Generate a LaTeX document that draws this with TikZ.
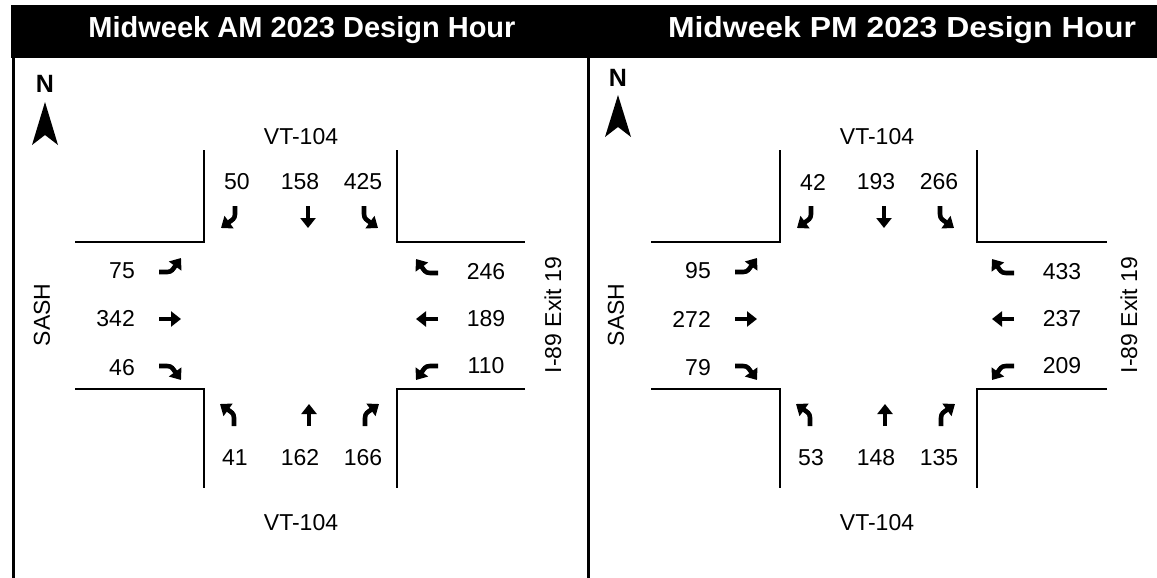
\documentclass[tikz,border=0pt]{standalone}
\usepackage{fontspec}
\setmainfont{Liberation Sans}
\usetikzlibrary{arrows.meta}
\tikzset{
  road/.style={line width=2pt},
  frameline/.style={line width=3pt},
  mv/.style={line width=4.6pt,-{Triangle[length=10pt,width=15pt]}},
  num/.style={font=\fontsize{23}{23}\selectfont, inner sep=0pt},
  hdr/.style={font=\bfseries\fontsize{29}{29}\selectfont, text=white, inner sep=0pt},
  northlbl/.style={font=\bfseries\fontsize{25}{25}\selectfont, inner sep=0pt},
  pics/mDN/.style={code={\draw[mv] (0,-11) -- (0,11);}},
  pics/mUP/.style={code={\draw[mv] (0,11) -- (0,-11);}},
  pics/mRT/.style={code={\draw[mv] (-11,0) -- (11,0);}},
  pics/mLF/.style={code={\draw[mv] (11,0) -- (-11,0);}},
  pics/mSDL/.style={code={\draw[mv] (5,-11) -- (5,-3) .. controls (5,2) and (2,3) .. (-9,11);}},
  pics/mSDR/.style={code={\draw[mv] (-5,-11) -- (-5,-3) .. controls (-5,2) and (-2,3) .. (9,11);}},
  pics/mNUL/.style={code={\draw[mv] (5,11) -- (5,3) .. controls (5,-2) and (2,-3) .. (-9,-11);}},
  pics/mNUR/.style={code={\draw[mv] (-5,11) -- (-5,3) .. controls (-5,-2) and (-2,-3) .. (9,-11);}},
  pics/mEUR/.style={code={\draw[mv] (-11,5) -- (-3,5) .. controls (2,5) and (3,2) .. (11,-9);}},
  pics/mEDR/.style={code={\draw[mv] (-11,-5) -- (-3,-5) .. controls (2,-5) and (3,-2) .. (11,9);}},
  pics/mWUL/.style={code={\draw[mv] (11,5) -- (3,5) .. controls (-2,5) and (-3,2) .. (-11,-9);}},
  pics/mWDL/.style={code={\draw[mv] (11,-5) -- (3,-5) .. controls (-2,-5) and (-3,-2) .. (-11,9);}},
}
\begin{document}
\begin{tikzpicture}[x=1pt,y=-1pt]
\useasboundingbox (0,0) rectangle (1157,578);
% header
\fill (11,5) rectangle (1157,58);
\draw[frameline] (13,58) -- (13,578);
\draw[frameline] (588,58) -- (588,578);
\node[hdr] (h1) at (302,30) {Midweek AM 2023 Design Hour};
\node[hdr, xscale=1.1] (h2) at (902,30) {Midweek PM 2023 Design Hour};
% north arrows
\node[northlbl] (n1) at (45,84) {N};
\fill (45,102) -- (58,145) -- (45,135) -- (32,145) -- cycle;
\node[northlbl] (n2) at (618,78) {N};
\fill (618,95) -- (631,137) -- (618,127) -- (605,137) -- cycle;
% street names outside the intersections
\node[num, rotate=90] (sash1) at (42,315) {SASH};
\node[num, rotate=90] (sash2) at (616,315) {SASH};

% ---------- AM panel ----------
\begin{scope}
\draw[road] (204,150) -- (204,242) -- (75,242);
\draw[road] (397,150) -- (397,242) -- (525,242);
\draw[road] (75,389) -- (204,389) -- (204,488);
\draw[road] (525,389) -- (397,389) -- (397,488);
\node[num] (aN) at (301,137) {VT-104};
\node[num] (aS) at (301,523) {VT-104};
\node[num, rotate=90] (aE) at (553,315) {I-89 Exit 19};
\node[num] (a50) at (237,182) {50};
\node[num] (a158) at (300,182) {158};
\node[num] (a425) at (363,182) {425};
\pic at (230,217) {mSDL};
\pic at (308,217) {mDN};
\pic at (369,217) {mSDR};
\node[num, anchor=east] (a75) at (135,271) {75};
\node[num, anchor=east] (a342) at (135,319) {342};
\node[num, anchor=east] (a46) at (135,368) {46};
\pic at (170,267) {mEUR};
\pic at (170,319) {mRT};
\pic at (170,371) {mEDR};
\pic at (427,268) {mWUL};
\pic at (427,319) {mLF};
\pic at (427,371) {mWDL};
\node[num] (a246) at (486,272) {246};
\node[num] (a189) at (486,319) {189};
\node[num] (a110) at (486,366) {110};
\pic at (229,415) {mNUL};
\pic at (309,415) {mUP};
\pic at (370,415) {mNUR};
\node[num] (a41) at (235,458) {41};
\node[num] (a162) at (300,458) {162};
\node[num] (a166) at (363,458) {166};
\end{scope}

% ---------- PM panel ----------
\begin{scope}[xshift=576pt]
\draw[road] (204,150) -- (204,242) -- (75,242);
\draw[road] (401,150) -- (401,242) -- (531,242);
\draw[road] (75,389) -- (204,389) -- (204,488);
\draw[road] (531,389) -- (401,389) -- (401,488);
\node[num] (pN) at (301,137) {VT-104};
\node[num] (pS) at (301,523) {VT-104};
\node[num, rotate=90] (pE) at (553,315) {I-89 Exit 19};
\node[num] (p42) at (237,182) {42};
\node[num] (p193) at (300,182) {193};
\node[num] (p266) at (363,182) {266};
\pic at (230,217) {mSDL};
\pic at (308,217) {mDN};
\pic at (369,217) {mSDR};
\node[num, anchor=east] (p95) at (135,271) {95};
\node[num, anchor=east] (p272) at (135,319) {272};
\node[num, anchor=east] (p79) at (135,368) {79};
\pic at (170,267) {mEUR};
\pic at (170,319) {mRT};
\pic at (170,371) {mEDR};
\pic at (427,268) {mWUL};
\pic at (427,319) {mLF};
\pic at (427,371) {mWDL};
\node[num] (p433) at (486,272) {433};
\node[num] (p237) at (486,319) {237};
\node[num] (p209) at (486,366) {209};
\pic at (229,415) {mNUL};
\pic at (309,415) {mUP};
\pic at (370,415) {mNUR};
\node[num] (p53) at (235,458) {53};
\node[num] (p148) at (300,458) {148};
\node[num] (p135) at (363,458) {135};
\end{scope}
\end{tikzpicture}
\end{document}
